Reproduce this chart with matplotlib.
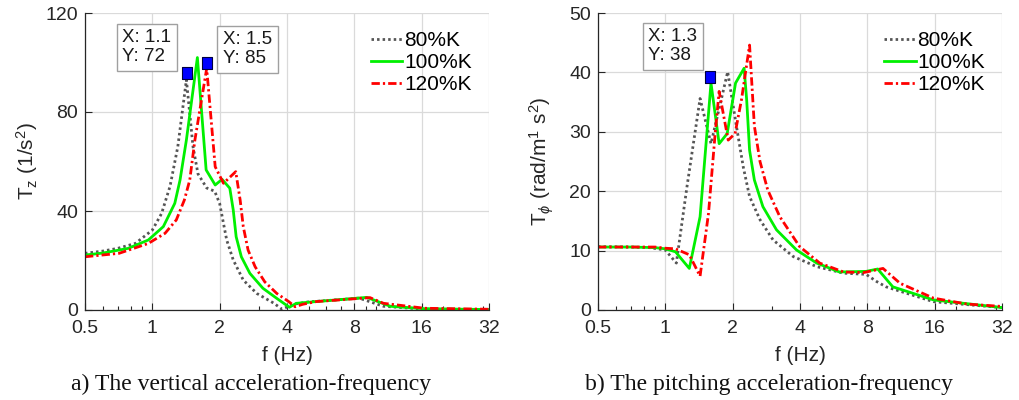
import matplotlib
matplotlib.use("Agg")
import matplotlib.pyplot as plt
from matplotlib.ticker import FixedLocator, LogLocator, NullFormatter

plt.rcParams['font.family'] = ['Liberation Sans', 'DejaVu Sans']
plt.rcParams['mathtext.fontset'] = 'custom'
plt.rcParams['mathtext.rm'] = 'Liberation Sans'
plt.rcParams['mathtext.it'] = 'Liberation Sans:italic'

# ---------------- data ----------------
series_labels = ['80%K', '100%K', '120%K']

# a) vertical acceleration-frequency
fz_80 = [0.5, 0.6, 0.7, 0.84, 1.0, 1.1, 1.2, 1.3, 1.42, 1.52, 1.6, 1.75, 1.9, 2.0, 2.08, 2.15, 2.3, 2.55, 2.93, 3.5, 3.8, 4.26, 5.0, 6.0, 8.4, 10.8, 16, 32]
tz_80 = [22.9, 23.8, 24.9, 26.9, 32.3, 39, 50, 66, 93, 66, 55, 49.3, 48, 43, 35, 28.3, 20.2, 12.1, 6.7, 2.7, 0.3, 2.3, 3.3, 3.8, 4.8, 1.5, 0.4, 0.1]
fz_100 = [0.5, 0.6, 0.78, 0.96, 1.12, 1.26, 1.33, 1.42, 1.59, 1.74, 1.91, 2.05, 2.22, 2.3, 2.37, 2.5, 2.73, 3.12, 3.6, 4.1, 4.4, 5.4, 9.1, 11.6, 16.5, 32]
tz_100 = [22.2, 23, 24.9, 28.3, 33.7, 43.1, 52.5, 68.7, 102, 56.6, 50.5, 52.8, 49.2, 40.4, 29.6, 21.5, 14.8, 8.8, 4.7, 1.1, 2.7, 3.4, 5.1, 1.5, 0.5, 0.2]
fz_120 = [0.5, 0.71, 0.96, 1.14, 1.28, 1.39, 1.47, 1.55, 1.75, 1.91, 2.08, 2.36, 2.47, 2.55, 2.68, 2.88, 3.18, 3.6, 4.07, 4.35, 4.7, 5.4, 9.4, 10.8, 16.5, 32]
tz_120 = [21.5, 22.9, 26.9, 31, 36.4, 44.4, 52.5, 68.7, 97.6, 57.9, 51.2, 55.9, 44.4, 33.7, 24.2, 17.5, 11.4, 6.7, 3.4, 1.3, 2.3, 3.4, 5, 2.7, 0.7, 0.3]
tipz_f = [1.43, 1.76]
tipz_v = [95.9, 99.9]
tipz_text = ['X: 1.1\nY: 72', 'X: 1.5\nY: 85']

# b) pitching acceleration-frequency
fp_80 = [0.5, 0.7, 0.85, 1.0, 1.12, 1.25, 1.43, 1.6, 1.9, 2.08, 2.23, 2.38, 2.65, 3.03, 3.73, 4.75, 6.27, 7.9, 8.8, 9.7, 15.8, 32]
tp_80 = [10.66, 10.6, 10.5, 10.1, 7.9, 20.8, 35.6, 28, 40.1, 30.9, 24.1, 19.1, 15.2, 11.8, 9.0, 7.3, 6.2, 6.0, 4.8, 3.9, 1.4, 0.4]
fp_100 = [0.5, 0.7, 0.9, 1.0, 1.11, 1.28, 1.43, 1.6, 1.74, 1.89, 2.06, 2.25, 2.31, 2.38, 2.5, 2.73, 3.14, 3.86, 4.75, 6.0, 7.9, 8.9, 10.4, 15.8, 32]
tp_100 = [10.6, 10.6, 10.5, 10.3, 9.8, 7.0, 15.7, 38.2, 28, 29.7, 38.2, 40.7, 35.4, 26.9, 21.9, 17.4, 13.5, 10.1, 7.9, 6.4, 6.5, 6.9, 3.9, 1.7, 0.4]
fp_120 = [0.5, 0.7, 0.9, 1.0, 1.11, 1.28, 1.43, 1.56, 1.67, 1.74, 1.91, 2.05, 2.19, 2.38, 2.5, 2.65, 2.87, 3.25, 3.98, 4.9, 6.27, 7.7, 9.4, 11.2, 15.8, 22.3, 32]
tp_120 = [10.6, 10.6, 10.6, 10.4, 10.3, 9.3, 5.7, 16.3, 29.7, 36.8, 28.6, 29.7, 35.4, 44.6, 31, 25, 20.2, 15.7, 10.7, 7.9, 6.4, 6.3, 7.0, 4.5, 2.0, 1.0, 0.6]
tipp_f = [1.59]
tipp_v = [39.3]
tipp_text = ['X: 1.3\nY: 38']

xticks = [0.5, 1, 2, 4, 8, 16, 32]
xtick_labels = ['0.5', '1', '2', '4', '8', '16', '32']

# ---------------- styling ----------------
FS = 14
FL = 15
TXT = '#262626'
styles = [dict(color='#555555', ls=(0, (0.9, 1.1)), lw=2.0),
          dict(color='#00f000', ls='-', lw=2.0),
          dict(color='#ff0000', ls=(0, (3.0, 1.1, 0.8, 1.1)), lw=2.0)]
tip_marker = [(-0.36, -0.5), (0.36, -0.5), (0.36, 0.5), (-0.36, 0.5), (-0.36, -0.5)]

fig = plt.figure(figsize=(10.2, 4), dpi=100)
W, H = 1020, 400


def make_ax(left_px):
    return fig.add_axes([left_px / W, (H - 310) / H, 404 / W, 297 / H])


def style_ax(ax, ymax, ystep, ylabel, label_x):
    ax.set_xscale('log')
    ax.set_xlim(0.5, 32)
    ax.set_ylim(0, ymax)
    ax.xaxis.set_major_locator(FixedLocator(xticks))
    ax.set_xticklabels(xtick_labels)
    ax.xaxis.set_minor_locator(LogLocator(base=10, subs=range(1, 10)))
    ax.xaxis.set_minor_formatter(NullFormatter())
    ax.set_yticks(list(range(0, ymax + 1, ystep)))
    ax.tick_params(which='major', direction='in', length=5, width=0.8,
                   labelsize=FS, labelcolor=TXT, color=TXT)
    ax.tick_params(axis='x', which='major', pad=7)
    ax.tick_params(axis='y', which='major', pad=5)
    ax.tick_params(which='minor', direction='in', length=3, width=0.8, color=TXT)
    for s in ['top', 'right']:
        ax.spines[s].set_visible(False)
    for s in ['left', 'bottom']:
        ax.spines[s].set_color(TXT)
        ax.spines[s].set_linewidth(0.9)
    ax.grid(True, which='major', color='#dadada', lw=0.9)
    ax.set_axisbelow(True)
    ax.set_xlabel('f (Hz)', fontsize=FL, color=TXT, labelpad=7)
    ax.set_ylabel(ylabel, fontsize=FL, color=TXT)
    ax.yaxis.set_label_coords(label_x, 0.5)
    ax.legend(loc='upper right', bbox_to_anchor=(1.0, 0.995), frameon=False,
              fontsize=FL, handlelength=1.5, handletextpad=0.1,
              labelspacing=0.14, borderaxespad=0.4)


def add_tips(ax, tf, tv, texts, positions):
    ax.plot(tf, tv, ls='none', marker=tip_marker, ms=9.2, mfc='#0000ff',
            mec='#000040', mew=0.8, zorder=5)
    for t, (px, py) in zip(texts, positions):
        ax.text(px, py, t, transform=ax.transAxes, ha='left', va='top',
                fontsize=FS - 0.5, color='#1a1a1a', linespacing=1.15,
                bbox=dict(boxstyle='square,pad=0.3', fc='white',
                          ec='#a0a0a0', lw=1.0), zorder=6)


# a)
ax1 = make_ax(85)
for f, v, lab, st in zip([fz_80, fz_100, fz_120], [tz_80, tz_100, tz_120],
                         series_labels, styles):
    ax1.plot(f, v, label=lab, **st)
style_ax(ax1, 120, 40, 'T$_\\mathregular{z}$ (1/s$^\\mathregular{2}$)', -0.111)
add_tips(ax1, tipz_f, tipz_v, tipz_text, [(0.092, 0.945), (0.341, 0.938)])

# b)
ax2 = make_ax(598)
for f, v, lab, st in zip([fp_80, fp_100, fp_120], [tp_80, tp_100, tp_120],
                         series_labels, styles):
    ax2.plot(f, v, label=lab, **st)
style_ax(ax2, 50, 10, 'T$_{\\phi}$ (rad/m$^\\mathregular{1}$ s$^\\mathregular{2}$)', -0.104)
add_tips(ax2, tipp_f, tipp_v, tipp_text, [(0.125, 0.948)])

fig.text(251 / W, 1 - 384 / H, 'a) The vertical acceleration-frequency',
         family='Liberation Serif', fontsize=17, ha='center', va='center',
         color='#111111')
fig.text(769 / W, 1 - 384 / H, 'b) The pitching acceleration-frequency',
         family='Liberation Serif', fontsize=17, ha='center', va='center',
         color='#111111')

fig.savefig('out.png', dpi=100)
